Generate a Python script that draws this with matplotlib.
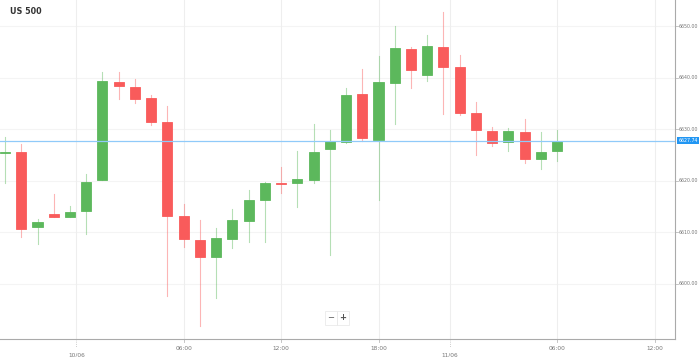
import matplotlib.pyplot as plt
from matplotlib.patches import Rectangle

# hourly candles
opens = [6625.3, 6625.5, 6611.1, 6613.6, 6613.0, 6614.2, 6620.2, 6639.2, 6638.1, 6636.0,
         6631.3, 6613.2, 6608.5, 6605.2, 6608.7, 6612.2, 6616.3, 6619.5, 6619.5, 6620.2,
         6626.1, 6627.5, 6636.8, 6628.0, 6639.0, 6645.5, 6640.6, 6646.0, 6642.0, 6633.1,
         6629.7, 6627.5, 6629.5, 6624.2, 6625.8]
closes = [6625.6, 6610.7, 6612.1, 6612.9, 6613.9, 6619.8, 6639.3, 6638.4, 6635.9, 6631.4,
          6613.2, 6608.7, 6605.3, 6608.9, 6612.4, 6616.2, 6619.6, 6619.4, 6620.4, 6625.5,
          6627.7, 6636.6, 6628.2, 6639.2, 6645.7, 6641.5, 6646.1, 6642.1, 6633.2, 6629.8,
          6627.4, 6629.7, 6624.2, 6625.6, 6627.74]
highs = [6628.4, 6627.1, 6612.6, 6617.4, 6615.1, 6621.3, 6641.1, 6641.1, 6639.7, 6636.6,
         6634.4, 6615.6, 6612.4, 6610.9, 6614.5, 6618.2, 6619.7, 6622.7, 6625.8, 6631.1,
         6629.8, 6637.9, 6641.7, 6644.2, 6650.0, 6646.0, 6648.3, 6652.8, 6644.4, 6635.3,
         6630.4, 6630.2, 6631.9, 6629.5, 6629.8]
lows = [6619.5, 6609.2, 6607.8, 6612.9, 6613.0, 6609.7, 6620.2, 6635.8, 6635.0, 6630.8,
        6597.7, 6607.2, 6591.9, 6597.2, 6607.0, 6608.2, 6608.2, 6617.6, 6614.9, 6619.6,
        6605.6, 6627.4, 6627.8, 6616.3, 6631.0, 6638.0, 6639.4, 6632.9, 6632.8, 6625.0,
        6626.7, 6625.8, 6623.4, 6622.2, 6623.8]
last_price = 6627.74

time_ticks = [11, 17, 23, 34, 40]
time_labels = ["06:00", "12:00", "18:00", "06:00", "12:00"]
date_ticks = [4.4, 27.4]
date_labels = ["10/06", "11/06"]
price_ticks = [6600, 6610, 6620, 6630, 6640, 6650]

green = "#5cb85c"
red = "#f95b5b"

fig = plt.figure(figsize=(6.99, 3.57), dpi=100)
ax = fig.add_axes([0, 18 / 357, 675 / 699, 339 / 357])

for i, (o, c, h, l) in enumerate(zip(opens, closes, highs, lows)):
    col = green if c >= o else red
    ax.plot([i, i], [l, h], color=col, lw=0.8, alpha=0.45, zorder=2)
    ax.add_patch(Rectangle((i - 0.31, min(o, c)), 0.62, max(abs(c - o), 0.15),
                           facecolor=col, edgecolor=col, lw=0.6, zorder=3))

ax.axhline(last_price, color="#90caf9", lw=0.9, zorder=4)

ax.set_xlim(-0.31, 41.26)
ax.set_ylim(6589.34, 6655.04)

for y in price_ticks:
    ax.axhline(y, color="#f4f4f4", lw=0.8, zorder=0)
for x in time_ticks + date_ticks:
    ax.axvline(x, color="#eeeeee", lw=0.8, zorder=0)

ax.set_xticks([])
ax.set_yticks([])
for s in ["top", "left"]:
    ax.spines[s].set_visible(False)
for s in ["right", "bottom"]:
    ax.spines[s].set_color("#aaaaaa")
    ax.spines[s].set_linewidth(0.8)

trans_x = ax.get_xaxis_transform()
for x, lab in zip(time_ticks, time_labels):
    ax.plot([x, x], [0, -0.008], color="#bbbbbb", lw=0.6, transform=trans_x, clip_on=False)
    ax.text(x, -0.02, lab, transform=trans_x, ha="center", va="top",
            fontsize=4.2, color="#777777")
for x, lab in zip(date_ticks, date_labels):
    ax.plot([x, x], [0, -0.025], color="#bbbbbb", lw=0.6, ls=":", transform=trans_x,
            clip_on=False)
    ax.text(x, -0.04, lab, transform=trans_x, ha="center", va="top",
            fontsize=4.2, color="#777777")

trans_y = ax.get_yaxis_transform()
for y in price_ticks:
    ax.plot([1, 1.004], [y, y], color="#bbbbbb", lw=0.6, transform=trans_y, clip_on=False)
    ax.text(1.005, y, f"{y:.2f}", transform=trans_y, ha="left", va="center",
            fontsize=3.4, color="#777777")
ax.text(1.005, last_price, f"{last_price:.2f}", transform=trans_y, ha="left",
        va="center", fontsize=3.4, color="white",
        bbox=dict(boxstyle="square,pad=0.2", fc="#2196f3", ec="none"))

fig.text(10 / 699, 1 - 11 / 357, "US 500", fontsize=5.8, fontweight="bold",
         color="#333333", ha="left", va="center")

# zoom buttons
fig.text(331 / 699, 1 - 318 / 357, "\u2212", fontsize=6, color="#555555", ha="center",
         va="center", bbox=dict(boxstyle="square,pad=0.25", fc="white", ec="#e6e6e6", lw=0.5))
fig.text(343 / 699, 1 - 318 / 357, "+", fontsize=6, color="#555555", ha="center",
         va="center", fontweight="bold",
         bbox=dict(boxstyle="square,pad=0.25", fc="white", ec="#e6e6e6", lw=0.5))

fig.savefig("out.png", dpi=100)
